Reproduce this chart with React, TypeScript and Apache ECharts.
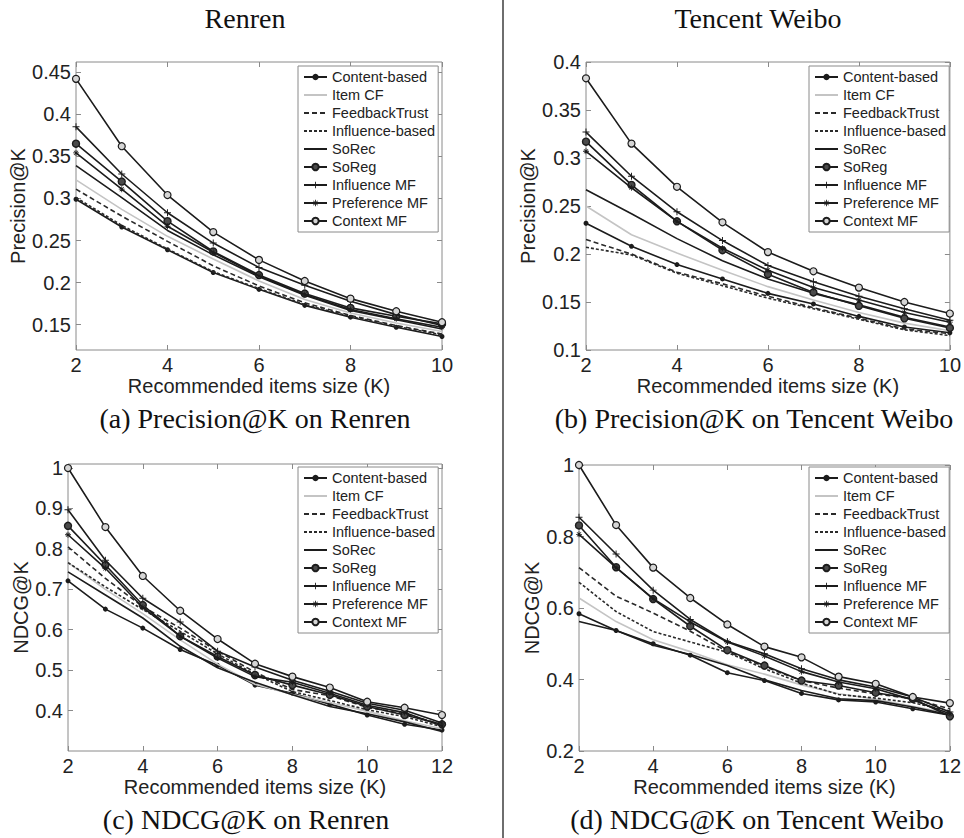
import React, { useEffect, useRef } from "react";
import * as echarts from "echarts";

const methods = [
  "Content-based",
  "Item CF",
  "FeedbackTrust",
  "Influence-based",
  "SoRec",
  "SoReg",
  "Influence MF",
  "Preference MF",
  "Context MF",
];

const kPrecision = [2, 3, 4, 5, 6, 7, 8, 9, 10];
const kNdcg = [2, 3, 4, 5, 6, 7, 8, 9, 10, 11, 12];

// rows follow the order of `methods`
const precisionRenren = [
  [0.299, 0.266, 0.239, 0.212, 0.192, 0.173, 0.159, 0.147, 0.136],
  [0.322, 0.287, 0.255, 0.228, 0.202, 0.18, 0.164, 0.152, 0.142],
  [0.311, 0.279, 0.249, 0.22, 0.196, 0.176, 0.161, 0.149, 0.139],
  [0.301, 0.268, 0.24, 0.213, 0.193, 0.174, 0.16, 0.148, 0.138],
  [0.339, 0.301, 0.262, 0.233, 0.207, 0.185, 0.167, 0.156, 0.145],
  [0.365, 0.32, 0.273, 0.237, 0.209, 0.187, 0.17, 0.16, 0.151],
  [0.385, 0.329, 0.283, 0.247, 0.218, 0.197, 0.178, 0.162, 0.149],
  [0.354, 0.311, 0.267, 0.236, 0.208, 0.186, 0.168, 0.157, 0.147],
  [0.442, 0.362, 0.304, 0.26, 0.227, 0.202, 0.181, 0.166, 0.153],
];

const precisionWeibo = [
  [0.232, 0.208, 0.189, 0.174, 0.159, 0.148, 0.135, 0.124, 0.118],
  [0.25, 0.22, 0.201, 0.183, 0.166, 0.152, 0.139, 0.128, 0.12],
  [0.215, 0.2, 0.181, 0.169, 0.156, 0.144, 0.133, 0.122, 0.117],
  [0.207, 0.199, 0.18, 0.167, 0.154, 0.143, 0.132, 0.121, 0.115],
  [0.267, 0.242, 0.216, 0.193, 0.174, 0.159, 0.147, 0.134, 0.124],
  [0.317, 0.272, 0.234, 0.204, 0.179, 0.16, 0.146, 0.133, 0.123],
  [0.327, 0.281, 0.244, 0.214, 0.188, 0.171, 0.156, 0.143, 0.131],
  [0.307, 0.269, 0.234, 0.206, 0.183, 0.165, 0.152, 0.139, 0.129],
  [0.383, 0.315, 0.27, 0.233, 0.202, 0.182, 0.165, 0.15, 0.138],
];

const ndcgRenren = [
  [0.721, 0.651, 0.604, 0.551, 0.512, 0.463, 0.443, 0.416, 0.389, 0.366, 0.352],
  [0.766, 0.7, 0.64, 0.575, 0.515, 0.465, 0.44, 0.42, 0.398, 0.375, 0.355],
  [0.805, 0.727, 0.657, 0.604, 0.547, 0.495, 0.452, 0.437, 0.408, 0.392, 0.365],
  [0.766, 0.706, 0.65, 0.596, 0.54, 0.49, 0.447, 0.425, 0.402, 0.385, 0.36],
  [0.743, 0.686, 0.629, 0.559, 0.506, 0.47, 0.439, 0.41, 0.392, 0.372, 0.348],
  [0.857, 0.76, 0.661, 0.584, 0.534, 0.488, 0.463, 0.439, 0.41, 0.389, 0.366],
  [0.897, 0.772, 0.678, 0.619, 0.547, 0.508, 0.475, 0.448, 0.418, 0.401, 0.369],
  [0.835, 0.752, 0.655, 0.584, 0.53, 0.484, 0.47, 0.443, 0.413, 0.395, 0.362],
  [1.0, 0.854, 0.733, 0.647, 0.577, 0.516, 0.484, 0.457, 0.422, 0.407, 0.389],
];

const ndcgWeibo = [
  [0.584, 0.537, 0.5, 0.468, 0.419, 0.397, 0.361, 0.343, 0.337, 0.318, 0.3],
  [0.628, 0.562, 0.511, 0.478, 0.441, 0.415, 0.385, 0.36, 0.345, 0.325, 0.305],
  [0.713, 0.633, 0.586, 0.535, 0.478, 0.436, 0.397, 0.376, 0.36, 0.346, 0.318],
  [0.672, 0.59, 0.534, 0.505, 0.476, 0.43, 0.39, 0.358, 0.348, 0.335, 0.312],
  [0.562, 0.537, 0.496, 0.47, 0.439, 0.399, 0.369, 0.346, 0.341, 0.323, 0.301],
  [0.831, 0.714, 0.625, 0.549, 0.482, 0.439, 0.397, 0.383, 0.363, 0.346, 0.297],
  [0.854, 0.751, 0.65, 0.568, 0.506, 0.472, 0.43, 0.399, 0.379, 0.351, 0.309],
  [0.806, 0.713, 0.626, 0.561, 0.505, 0.466, 0.422, 0.393, 0.374, 0.343, 0.304],
  [1.0, 0.832, 0.713, 0.628, 0.554, 0.492, 0.462, 0.408, 0.388, 0.351, 0.334],
];

const yTicksPrecisionRenren = [0.15, 0.2, 0.25, 0.3, 0.35, 0.4, 0.45];
const yTicksPrecisionWeibo = [0.1, 0.15, 0.2, 0.25, 0.3, 0.35, 0.4];
const yTicksNdcgRenren = [0.4, 0.5, 0.6, 0.7, 0.8, 0.9, 1];
const yTicksNdcgWeibo = [0.2, 0.4, 0.6, 0.8, 1];

const columnTitles = ["Renren", "Tencent Weibo"];
const captions = [
  "(a) Precision@K on Renren",
  "(b) Precision@K on Tencent Weibo",
  "(c) NDCG@K on Renren",
  "(d) NDCG@K on Tencent Weibo",
];
const xAxisName = "Recommended items size (K)";

const PLUS =
  "path://M-0.7,-5L0.7,-5L0.7,-0.7L5,-0.7L5,0.7L0.7,0.7L0.7,5L-0.7,5L-0.7,0.7L-5,0.7L-5,-0.7L-0.7,-0.7Z";
const STAR =
  "path://M-0.7,-5L0.7,-5L0.7,5L-0.7,5Z M-5,-0.7L5,-0.7L5,0.7L-5,0.7Z M-3.9,-3.1L-3.1,-3.9L3.9,3.1L3.1,3.9Z M3.1,-3.9L3.9,-3.1L-3.1,3.9L-3.9,3.1Z";

const INK = "#1c1c1c";
const styleOf = (name: string) => {
  switch (name) {
    case "Content-based":
      return { symbol: "circle", size: 5, fill: INK, border: INK, bw: 0, color: INK, type: "solid" as any };
    case "Item CF":
      return { symbol: "none", size: 0, fill: "#bdbdbd", border: "#bdbdbd", bw: 0, color: "#c4c4c4", type: "solid" as any };
    case "FeedbackTrust":
      return { symbol: "none", size: 0, fill: INK, border: INK, bw: 0, color: "#2a2a2a", type: [5, 3] as any };
    case "Influence-based":
      return { symbol: "none", size: 0, fill: INK, border: INK, bw: 0, color: "#2a2a2a", type: [3, 2] as any };
    case "SoRec":
      return { symbol: "none", size: 0, fill: INK, border: INK, bw: 0, color: INK, type: "solid" as any };
    case "SoReg":
      return { symbol: "circle", size: 7, fill: "#4a4a4a", border: INK, bw: 1.4, color: INK, type: "solid" as any };
    case "Influence MF":
      return { symbol: PLUS, size: 7, fill: INK, border: INK, bw: 0, color: INK, type: "solid" as any };
    case "Preference MF":
      return { symbol: STAR, size: 6, fill: INK, border: INK, bw: 0, color: INK, type: "solid" as any };
    default:
      return { symbol: "circle", size: 7, fill: "#d6d6d6", border: INK, bw: 1.2, color: INK, type: "solid" as any };
  }
};

const panels = [
  { left: 76, top: 62, width: 366, height: 288, xs: kPrecision, xMax: 10, yMin: 0.12, yMax: 0.462, ticks: yTicksPrecisionRenren, values: precisionRenren, yName: "Precision@K", yGap: 41, legendLeft: 298, legendTop: 66 },
  { left: 586, top: 62, width: 367, height: 288, xs: kPrecision, xMax: 10, yMin: 0.1, yMax: 0.4, ticks: yTicksPrecisionWeibo, values: precisionWeibo, yName: "Precision@K", yGap: 41, legendLeft: 809, legendTop: 66 },
  { left: 68, top: 464, width: 374, height: 287, xs: kNdcg, xMax: 12, yMin: 0.3, yMax: 1.01, ticks: yTicksNdcgRenren, values: ndcgRenren, yName: "NDCG@K", yGap: 30, legendLeft: 298, legendTop: 467 },
  { left: 579, top: 465, width: 374, height: 286, xs: kNdcg, xMax: 12, yMin: 0.2, yMax: 1, ticks: yTicksNdcgWeibo, values: ndcgWeibo, yName: "NDCG@K", yGap: 31, legendLeft: 809, legendTop: 467 },
];

const SANS = "'Liberation Sans', Arial, sans-serif";
const SERIF = "'Liberation Serif', 'Times New Roman', serif";
const AXIS_GRAY = "#8a8a8a";
const fmt = (v: number) => String(parseFloat(Number(v).toFixed(2)));

export default function App() {
  const ref = useRef<HTMLDivElement>(null);

  useEffect(() => {
    if (!ref.current) return;
    const chart = echarts.init(ref.current, undefined, { renderer: "svg" });

    const grid: any[] = [];
    const xAxis: any[] = [];
    const yAxis: any[] = [];
    const legend: any[] = [];
    const series: any[] = [];

    const legendData = methods.map((name) =>
      styleOf(name).symbol === "none"
        ? { name, itemStyle: { color: "transparent", borderColor: "transparent", borderWidth: 0 } }
        : { name }
    );

    panels.forEach((p, i) => {
      grid.push({
        left: p.left,
        top: p.top,
        width: p.width,
        height: p.height,
        show: true,
        borderColor: AXIS_GRAY,
        borderWidth: 1,
        backgroundColor: "#fff",
        containLabel: false,
      });
      const tickStyle = { show: true, inside: true, length: 5, lineStyle: { color: AXIS_GRAY, width: 1 } };
      xAxis.push({
        type: "value",
        gridIndex: i,
        position: "bottom",
        min: 2,
        max: p.xMax,
        interval: 2,
        axisLine: { show: false },
        axisTick: tickStyle,
        splitLine: { show: false },
        axisLabel: { color: "#222", fontFamily: SANS, fontSize: 20, margin: 5 },
        name: xAxisName,
        nameLocation: "middle",
        nameGap: 24,
        nameTextStyle: { color: "#222", fontFamily: SANS, fontSize: 20 },
      });
      xAxis.push({
        type: "value",
        gridIndex: i,
        position: "top",
        min: 2,
        max: p.xMax,
        interval: 2,
        axisLine: { show: false },
        axisTick: tickStyle,
        splitLine: { show: false },
        axisLabel: { show: false },
      });
      yAxis.push({
        type: "value",
        gridIndex: i,
        position: "left",
        min: p.yMin,
        max: p.yMax,
        axisLine: { show: false },
        axisTick: { ...tickStyle, customValues: p.ticks },
        splitLine: { show: false },
        axisLabel: {
          color: "#222",
          fontFamily: SANS,
          fontSize: 20,
          margin: 5,
          customValues: p.ticks,
          formatter: (v: number) => fmt(v),
        },
        name: p.yName,
        nameLocation: "middle",
        nameGap: p.yGap,
        nameTextStyle: { color: "#222", fontFamily: SANS, fontSize: 20 },
      });
      yAxis.push({
        type: "value",
        gridIndex: i,
        position: "right",
        min: p.yMin,
        max: p.yMax,
        axisLine: { show: false },
        axisTick: { ...tickStyle, customValues: p.ticks },
        splitLine: { show: false },
        axisLabel: { show: false, customValues: p.ticks },
      });
      legend.push({
        left: p.legendLeft,
        top: p.legendTop,
        orient: "vertical",
        data: legendData,
        selectedMode: false,
        backgroundColor: "#fff",
        borderColor: AXIS_GRAY,
        borderWidth: 1,
        padding: [3, 3, 3, 5],
        itemGap: 2,
        itemWidth: 23,
        itemHeight: 8,
        textStyle: { color: "#222", fontFamily: SANS, fontSize: 14.5, lineHeight: 16 },
      });

      methods.forEach((name, j) => {
        const s = styleOf(name);
        series.push({
          type: "line",
          name,
          xAxisIndex: i * 2,
          yAxisIndex: i * 2,
          data: p.xs.map((x, k) => [x, p.values[j][k]]),
          symbol: s.symbol,
          symbolSize: s.size,
          showSymbol: s.symbol !== "none",
          lineStyle: { color: s.color, width: 1.6, type: s.type },
          itemStyle: { color: s.fill, borderColor: s.border, borderWidth: s.bw },
          emphasis: { disabled: true },
          z: 2 + j * 0.01,
        });
      });
    });

    const graphic: any[] = [
      {
        type: "line",
        shape: { x1: 503, y1: 0, x2: 503, y2: 838 },
        style: { stroke: "#6e6e6e", lineWidth: 2 },
      },
      {
        type: "text",
        x: 245,
        y: 18,
        style: { text: columnTitles[0], font: `28px ${SERIF}`, fill: "#111", align: "center", verticalAlign: "middle" },
      },
      {
        type: "text",
        x: 758,
        y: 18,
        style: { text: columnTitles[1], font: `28px ${SERIF}`, fill: "#111", align: "center", verticalAlign: "middle" },
      },
    ];
    const capPos = [
      [255, 418],
      [754, 418],
      [246, 819],
      [757, 819],
    ];
    captions.forEach((c, i) => {
      graphic.push({
        type: "text",
        x: capPos[i][0],
        y: capPos[i][1],
        style: { text: c, font: `28px ${SERIF}`, fill: "#111", align: "center", verticalAlign: "middle" },
      });
    });

    chart.setOption({
      animation: false,
      backgroundColor: "#fff",
      grid,
      xAxis,
      yAxis,
      legend,
      series,
      graphic,
    });

    return () => chart.dispose();
  }, []);

  return (
    <div
      ref={ref}
      style={{ position: "fixed", left: 0, top: 0, width: 964, height: 838, background: "#fff" }}
    />
  );
}
